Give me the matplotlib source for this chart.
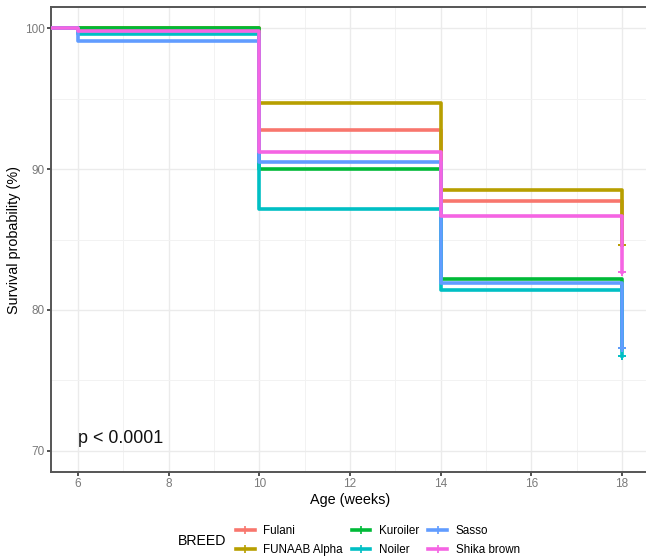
import matplotlib
matplotlib.use("Agg")
import matplotlib.pyplot as plt
from matplotlib.lines import Line2D
from matplotlib.ticker import MultipleLocator

plt.rcParams["font.family"] = ["Liberation Sans", "DejaVu Sans"]

# Kaplan-Meier survival (%) per breed at each age (weeks)
weeks = [0, 6, 10, 14, 18]
breeds = ["Fulani", "FUNAAB Alpha", "Kuroiler", "Noiler", "Sasso", "Shika brown"]
fulani = [100, 100, 92.8, 87.7, 84.6]
funaab_alpha = [100, 100, 94.7, 88.5, 84.6]
kuroiler = [100, 100, 90.0, 82.2, 77.3]
noiler = [100, 99.6, 87.2, 81.4, 76.7]
sasso = [100, 99.1, 90.5, 81.9, 77.3]
shika_brown = [100, 99.8, 91.2, 86.7, 82.7]
p_label = "p < 0.0001"

survival = [fulani, funaab_alpha, kuroiler, noiler, sasso, shika_brown]
colors = ["#F8766D", "#B79F00", "#00BA38", "#00BFC4", "#619CFF", "#F564E3"]

fig = plt.figure(figsize=(6.46, 5.57), dpi=100)
ax = fig.add_axes([51 / 646, 85 / 557, 598 / 646, 465 / 557])

for name, surv, col in zip(breeds, survival, colors):
    ax.step(weeks, surv, where="post", color=col, lw=2.6, zorder=3)
    # censored at end of follow-up
    ax.plot(weeks[-1], surv[-1], marker="+", ms=6, mew=1.4, color=col, zorder=3)

ax.set_xlim(5.4, 18.6)
ax.set_ylim(68.5, 101.5)
ax.xaxis.set_major_locator(MultipleLocator(2))
ax.xaxis.set_minor_locator(MultipleLocator(1))
ax.yaxis.set_major_locator(MultipleLocator(10))
ax.yaxis.set_minor_locator(MultipleLocator(5))
ax.grid(which="major", color="#ebebeb", lw=1.0, zorder=0)
ax.grid(which="minor", color="#f2f2f2", lw=0.7, zorder=0)
ax.set_axisbelow(True)

for side in ["left", "bottom", "top"]:
    ax.spines[side].set_color("#555555")
    ax.spines[side].set_linewidth(1.4)
ax.spines["right"].set_visible(False)
ax.tick_params(which="major", length=3, width=1.2, color="#333333",
               labelsize=8.5, labelcolor="#7a7a7a", pad=1.5)
ax.tick_params(which="minor", length=0)

ax.set_xlabel("Age (weeks)", fontsize=10.4, labelpad=2)
ax.set_ylabel("Survival probability (%)", fontsize=10.4, labelpad=3)

ax.text(6, 70.9, p_label, fontsize=12.9, va="center", ha="left", color="#111111")

handles = [Line2D([], [], color=c, lw=2.6, marker="+", ms=6, mew=1.2) for c in colors]
fig.legend(handles, breeds, ncol=3, loc="center left",
           bbox_to_anchor=(236 / 646, 1 - 540.5 / 557), frameon=False,
           fontsize=8.4, handlelength=1.6, handletextpad=0.75,
           columnspacing=0.75, labelspacing=0.6, borderpad=0, borderaxespad=0)
fig.text(178 / 646, 1 - 541 / 557, "BREED", fontsize=10.2, va="center", ha="left")

fig.savefig("out.png", dpi=100)
